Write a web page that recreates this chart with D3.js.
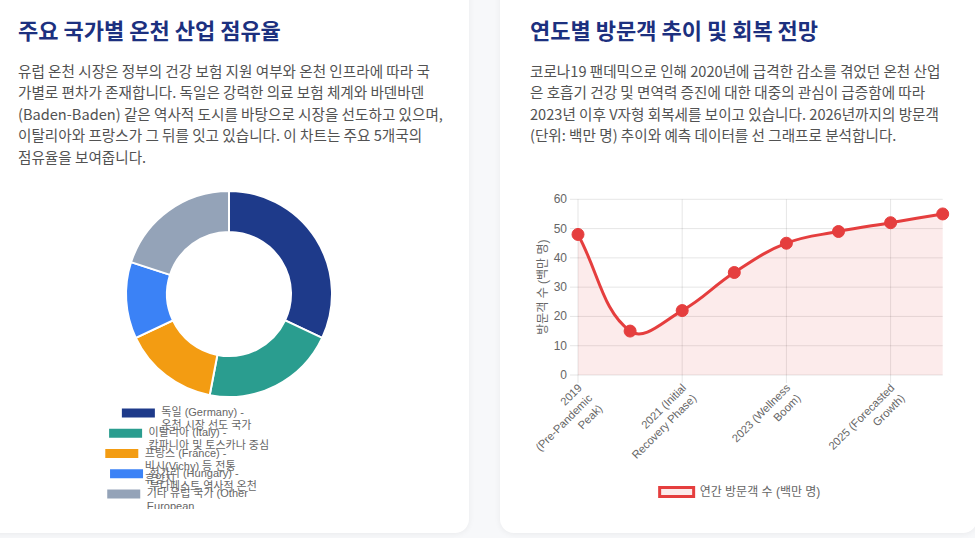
<!DOCTYPE html>
<html><head><meta charset="utf-8">
<script src="https://cdn.jsdelivr.net/npm/d3@7/dist/d3.min.js"></script>
<style>
html,body{margin:0;padding:0;width:975px;height:538px;overflow:hidden;background:#f7f8fa;font-family:"Noto Sans CJK KR","Noto Sans",sans-serif;}
.card{position:absolute;background:#fff;border-radius:14px;box-shadow:0 1px 6px rgba(0,0,0,0.06);}
#c1{left:-30px;top:-30px;width:499px;height:563px;}
#c2{left:500px;top:-30px;width:477px;height:563px;}
h2{position:absolute;margin:0;font-size:22px;font-weight:700;color:#1c307f;white-space:nowrap;line-height:1;}
p{position:absolute;margin:0;font-size:14.6px;line-height:21.4px;color:#525252;white-space:nowrap;}
svg{position:absolute;left:0;top:0;}
</style></head>
<body>
<div class="card" id="c1"></div><div class="card" id="c2"></div>
<h2 style="left:18px;top:18px">주요 국가별 온천 산업 점유율</h2>
<p style="left:18px;top:60px">유럽 온천 시장은 정부의 건강 보험 지원 여부와 온천 인프라에 따라 국<br>가별로 편차가 존재합니다. 독일은 강력한 의료 보험 체계와 바덴바덴<br>(Baden-Baden) 같은 역사적 도시를 바탕으로 시장을 선도하고 있으며,<br>이탈리아와 프랑스가 그 뒤를 잇고 있습니다. 이 차트는 주요 5개국의<br>점유율을 보여줍니다.</p>
<h2 style="left:530px;top:18px">연도별 방문객 추이 및 회복 전망</h2>
<p style="left:530px;top:60px">코로나19 팬데믹으로 인해 2020년에 급격한 감소를 겪었던 온천 산업<br>은 호흡기 건강 및 면역력 증진에 대한 대중의 관심이 급증함에 따라<br>2023년 이후 V자형 회복세를 보이고 있습니다. 2026년까지의 방문객<br>(단위: 백만 명) 추이와 예측 데이터를 선 그래프로 분석합니다.</p>
<svg id="chart" width="975" height="538"></svg>
<script>
// ---------- data ----------
const countryLabels = [
  ["독일 (Germany) -", "온천 시장 선도 국가"],
  ["이탈리아 (Italy) -", "캄파니아 및 토스카나 중심"],
  ["프랑스 (France) -", "비시(Vichy) 등 전통", "휴양지"],
  ["헝가리 (Hungary) -", "부다페스트 역사적 온천"],
  ["기타 유럽 국가 (Other", "European", "Countries)"]
];
const countryShares = [32, 21, 15, 12, 20];
const countryColors = ["#1e3a8a", "#2a9d8f", "#f39c12", "#3b82f6", "#94a3b8"];

const yearLabels = [
  ["2019", "(Pre-Pandemic", "Peak)"],
  ["2020 (Pandemic", "Impact)"],
  ["2021 (Initial", "Recovery Phase)"],
  ["2022 (Steady", "Recovery)"],
  ["2023 (Wellness", "Boom)"],
  ["2024 (Market", "Expansion)"],
  ["2025 (Forecasted", "Growth)"],
  ["2026 (Projected", "Peak)"]
];
const visitors = [48, 15, 22, 35, 45, 49, 52, 55];
const yTickValues = [0, 10, 20, 30, 40, 50, 60];
const seriesName = "연간 방문객 수 (백만 명)";
const yAxisTitle = "방문객 수 (백만 명)";

// ---------- setup ----------
const svg = d3.select("#chart");
const chartFont = '"Liberation Sans","Noto Sans CJK KR",Arial,sans-serif';
const gray = "#666";

function measure(txt, size) {
  const t = svg.append("text").attr("font-family", chartFont).attr("font-size", size).text(txt);
  const w = t.node().getComputedTextLength();
  t.remove();
  return w;
}

// ---------- donut ----------
const defs = svg.append("defs");
defs.append("clipPath").attr("id", "leftClip").append("rect")
  .attr("x", 18).attr("y", 180).attr("width", 424).attr("height", 329);
const left = svg.append("g").attr("clip-path", "url(#leftClip)");

const cx = 229, cy = 294, rOuter = 103, rInner = 62;
const pie = d3.pie().sort(null).value(d => d)(countryShares);
const arc = d3.arc().innerRadius(rInner).outerRadius(rOuter);
left.append("g").attr("transform", `translate(${cx},${cy})`)
  .selectAll("path").data(pie).join("path")
  .attr("d", arc)
  .attr("fill", (d, i) => countryColors[i])
  .attr("stroke", "#fff").attr("stroke-width", 2);

// legend (one row per item, centred like Chart.js)
const lgFont = 11, lgBoxW = 35, lgRow = 20.25, lgTop = 407.5, lgLine = 13.2;
countryLabels.forEach((lines, i) => {
  const itemW = lgBoxW + lgFont / 2 + measure(lines.join(","), lgFont);
  const x0 = cx - itemW / 2;
  const y0 = lgTop + i * lgRow;
  left.append("rect").attr("x", x0).attr("y", y0).attr("width", lgBoxW).attr("height", lgFont)
    .attr("fill", countryColors[i]).attr("stroke", "#fff").attr("stroke-width", 2);
  const t = left.append("text").attr("font-family", chartFont).attr("font-size", lgFont)
    .attr("fill", gray).attr("dominant-baseline", "central");
  lines.forEach((ln, j) => {
    t.append("tspan").attr("x", x0 + lgBoxW + lgFont / 2).attr("y", y0 + lgFont / 2 - 1 + j * lgLine).text(ln);
  });
});

// ---------- line chart ----------
const x = d3.scalePoint().domain(d3.range(visitors.length)).range([578, 942.7]);
const y = d3.scaleLinear().domain([0, 60]).range([375, 199.3]);
const g = svg.append("g");
const gridCol = "rgba(0,0,0,0.1)";

// horizontal grid + y ticks
yTickValues.forEach(v => {
  g.append("line").attr("x1", x(0) - 8).attr("x2", x(visitors.length - 1))
    .attr("y1", y(v)).attr("y2", y(v)).attr("stroke", gridCol).attr("stroke-width", 1);
  g.append("text").attr("x", x(0) - 11).attr("y", y(v)).attr("text-anchor", "end")
    .attr("dominant-baseline", "central").attr("font-family", chartFont).attr("font-size", 12)
    .attr("fill", gray).text(v);
});
// vertical grid for displayed ticks (every other)
const shown = d3.range(0, visitors.length, 2);
shown.forEach(i => {
  g.append("line").attr("x1", x(i)).attr("x2", x(i)).attr("y1", y(60)).attr("y2", y(0) + 8)
    .attr("stroke", gridCol).attr("stroke-width", 1);
  const t = g.append("text").attr("transform", `translate(${x(i)},${y(0) + 9}) rotate(-45)`)
    .attr("text-anchor", "end").attr("dominant-baseline", "central")
    .attr("font-family", chartFont).attr("font-size", 11.2).attr("fill", gray);
  yearLabels[i].forEach((ln, j) => {
    t.append("tspan").attr("x", 0).attr("y", 2.5 + j * 14.6).text(ln);
  });
});
// y axis title
g.append("text").attr("transform", `translate(543,${(y(0) + y(60)) / 2}) rotate(-90)`)
  .attr("text-anchor", "middle").attr("dominant-baseline", "central")
  .attr("font-family", chartFont).attr("font-size", 12).attr("fill", gray).text(yAxisTitle);

// Chart.js-style spline (tension 0.4)
const pts = visitors.map((v, i) => ({ x: x(i), y: y(v) }));
const tension = 0.4;
pts.forEach((p, i) => {
  const p0 = pts[i - 1] || p, p2 = pts[i + 1] || p;
  const d01 = Math.hypot(p.x - p0.x, p.y - p0.y), d12 = Math.hypot(p2.x - p.x, p2.y - p.y);
  let s01 = d01 / (d01 + d12), s12 = d12 / (d01 + d12);
  if (isNaN(s01)) s01 = 0; if (isNaN(s12)) s12 = 0;
  const fa = tension * s01, fb = tension * s12;
  const clampY = v => Math.max(y(60), Math.min(y(0), v));
  const clampX = v => Math.max(x(0), Math.min(x(visitors.length - 1), v));
  p.cpPrev = { x: clampX(p.x - fa * (p2.x - p0.x)), y: clampY(p.y - fa * (p2.y - p0.y)) };
  p.cpNext = { x: clampX(p.x + fb * (p2.x - p0.x)), y: clampY(p.y + fb * (p2.y - p0.y)) };
});
function curvePath(ctx) {
  ctx.moveTo(pts[0].x, pts[0].y);
  for (let i = 1; i < pts.length; i++) {
    const a = pts[i - 1], b = pts[i];
    ctx.bezierCurveTo(a.cpNext.x, a.cpNext.y, b.cpPrev.x, b.cpPrev.y, b.x, b.y);
  }
  return ctx;
}
const areaP = curvePath(d3.path());
areaP.lineTo(pts[pts.length - 1].x, y(0)); areaP.lineTo(pts[0].x, y(0)); areaP.closePath();
g.append("path").attr("d", areaP.toString()).attr("fill", "rgba(229,62,62,0.1)");
g.append("path").attr("d", curvePath(d3.path()).toString()).attr("fill", "none")
  .attr("stroke", "#e53e3e").attr("stroke-width", 3);
g.selectAll("circle.pt").data(pts).join("circle").attr("class", "pt")
  .attr("cx", d => d.x).attr("cy", d => d.y).attr("r", 6)
  .attr("fill", "#e53e3e").attr("stroke", "#e53e3e").attr("stroke-width", 1);

// legend
const lw = 34 + 6 + measure(seriesName, 12);
const lx = 740 - lw / 2;
g.append("rect").attr("x", lx).attr("y", 487.5).attr("width", 34).attr("height", 9)
  .attr("fill", "rgba(229,62,62,0.1)").attr("stroke", "#e53e3e").attr("stroke-width", 3);
g.append("text").attr("x", lx + 40).attr("y", 492).attr("dominant-baseline", "central")
  .attr("font-family", chartFont).attr("font-size", 12).attr("fill", gray).text(seriesName);
</script>
</body></html>
